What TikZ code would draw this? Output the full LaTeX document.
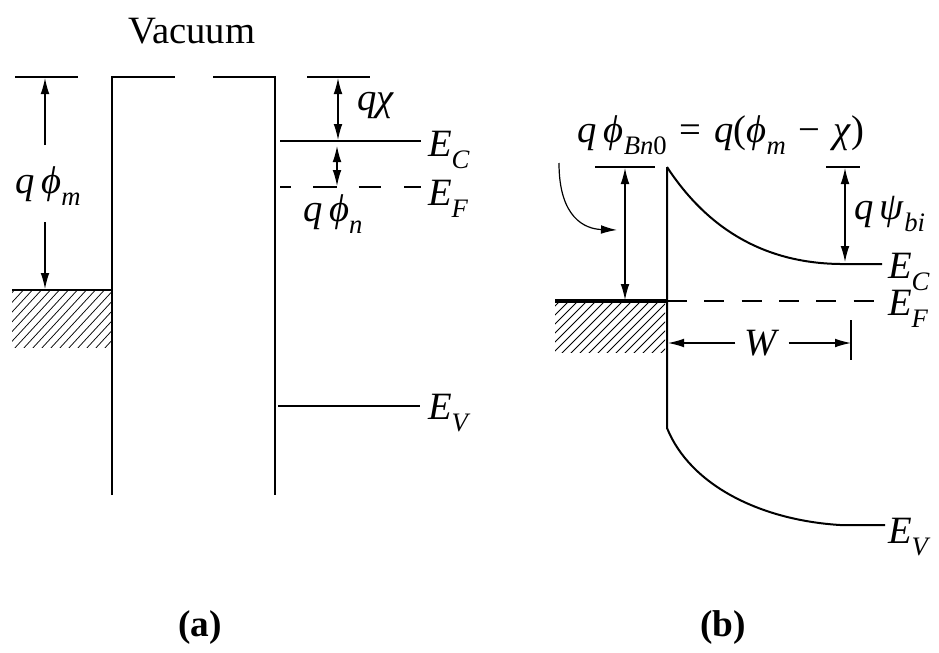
\documentclass[tikz,border=0pt]{standalone}
\usepackage{fontspec}
\setmainfont{Liberation Serif}
\usetikzlibrary{arrows.meta}
\newcommand\lsub[1]{\raisebox{-0.32em}{\fontsize{20}{22}\selectfont\itshape #1}}
\newcommand\lit[1]{\textit{#1}}
\begin{document}
\begin{tikzpicture}[x=0.75pt,y=-0.75pt,
  line width=1.5pt,
  >={Latex[length=12pt,width=6.5pt]},
  lab/.style={font=\fontsize{29}{33}\selectfont, inner sep=0pt},
  figcap/.style={font=\fontsize{28}{32}\selectfont\bfseries, inner sep=0pt},
  thinln/.style={line width=0.8pt},
  hatchln/.style={line width=0.55pt},
  arr/.style={line width=0.9pt}]
\useasboundingbox (0,0) rectangle (939,653);

% ---------------- (a) ----------------
\node[lab] (vac) at (192,31) {Vacuum};
% barrier
\coordinate (blb) at (112,495);
\coordinate (blt) at (112,77);
\coordinate (bgl) at (175,77);
\coordinate (bgr) at (213,77);
\coordinate (brt) at (275,77);
\coordinate (brb) at (275,495);
\draw (blb) -- (blt) -- (bgl);
\draw (bgr) -- (brt) -- (brb);
% metal
\coordinate (mfl) at (12,290);
\coordinate (mfr) at (112,290);
\begin{scope}
  \clip (12,291) rectangle (111,347);
  \foreach \i in {0,...,18} {
    \draw[hatchln] (-50+\i*9,350) -- (10+\i*9,285);
  }
\end{scope}
\draw (mfl) -- (mfr);
% q phi_m
\coordinate (vl1) at (15,77);
\coordinate (vl2) at (78,77);
\draw[thinln] (vl1) -- (vl2);
\node[lab] (qphim) at (48,186) {\lit{q\,ϕ}\lsub{m}};
\coordinate (pmt) at (45,78);
\coordinate (pmb) at (45,289);
\draw[arr,->] (45,145) -- (pmt);
\draw[arr,->] (45,222) -- (pmb);
% semiconductor bands
\coordinate (ecl) at (280,141);
\coordinate (ecr) at (421,141);
\draw (ecl) -- (ecr);
\node[lab,anchor=west] (eca) at (427,150) {\lit{E}\lsub{C}};
\coordinate (efl) at (280,187);
\coordinate (efr) at (421,187);
\draw[dash pattern=on 17pt off 17pt, dash phase=9pt] (efl) -- (efr);
\draw (316,187) -- (337,187);
\node[lab,anchor=west] (efa) at (427,199) {\lit{E}\lsub{F}};
\coordinate (evl) at (278,406);
\coordinate (evr) at (420,406);
\draw (evl) -- (evr);
\node[lab,anchor=west] (eva) at (427,413) {\lit{E}\lsub{V}};
% q chi
\coordinate (cl1) at (307,77);
\coordinate (cl2) at (370,77);
\draw[thinln] (cl1) -- (cl2);
\draw[arr,<->] (338,78) -- (338,140);
\node[lab] (qchi) at (376,106) {\lit{qχ}};
% q phi_n
\draw[arr,<->] (337,146) -- (337,186);
\node[lab] (qphin) at (333,214) {\lit{q\,ϕ}\lsub{n}};
\node[figcap] (capa) at (200,628) {(a)};

% ---------------- (b) ----------------
\node[lab,anchor=base] (bar) at (721,142) {\lit{q\,ϕ}\lsub{Bn}\lsub{\upshape 0}\,\,=\,\,\lit{q}(\lit{ϕ}\lsub{m}\,\,−\,\,\lit{χ})};
\draw[arr,->] (559,163) .. controls (559,218) and (585,229) .. (617,230);
\coordinate (tl1) at (595,167);
\coordinate (tl2) at (655,167);
\draw[thinln] (tl1) -- (tl2);
\draw[arr,<->] (625,168) -- (625,300);
% metal
\begin{scope}
  \clip (555,302) rectangle (665,352);
  \foreach \i in {0,...,20} {
    \draw[hatchln] (495+\i*9,357) -- (555+\i*9,297);
  }
\end{scope}
\coordinate (m2l) at (555,301);
\coordinate (m2r) at (667,301);
\draw[line width=2.4pt] (m2l) -- (m2r);
% semiconductor
\coordinate (stop) at (667,167);
\coordinate (sbot) at (667,428);
\coordinate (evend) at (885,525);
\coordinate (ecend) at (882,264);
\draw (stop) -- (sbot) .. controls (690,485) and (760,520) .. (840,525) -- (evend);
\draw (stop) .. controls (705,225) and (760,263) .. (840,264) -- (ecend);
\coordinate (ef2l) at (667,301);
\coordinate (ef2r) at (882,301);
\draw[dash pattern=on 15pt off 13pt, dash phase=0pt] (ef2l) -- (ef2r);
\node[lab,anchor=west] (ecb) at (887,272) {\lit{E}\lsub{C}};
\node[lab,anchor=west] (efb) at (887,309) {\lit{E}\lsub{F}};
\node[lab,anchor=west] (evb) at (887,537) {\lit{E}\lsub{V}};
% psi_bi
\coordinate (pl1) at (826,167);
\coordinate (pl2) at (860,167);
\draw[thinln] (pl1) -- (pl2);
\draw[arr,<->] (845,168) -- (845,262);
\node[lab,anchor=west] (psi) at (853,214) {\lit{q\,ψ}\lsub{bi}};
% W
\node[lab] (wlab) at (762,343) {\lit{W}};
\coordinate (wl) at (668,343);
\coordinate (wr) at (851,343);
\draw[arr,->] (wlab.west) ++(-6pt,0) -- (wl);
\draw[arr,->] (wlab.east) ++(6pt,0) -- (wr);
\draw[thinln] (851,320) -- (851,360);
\node[figcap] (capb) at (723,628) {(b)};
\end{tikzpicture}
\end{document}
